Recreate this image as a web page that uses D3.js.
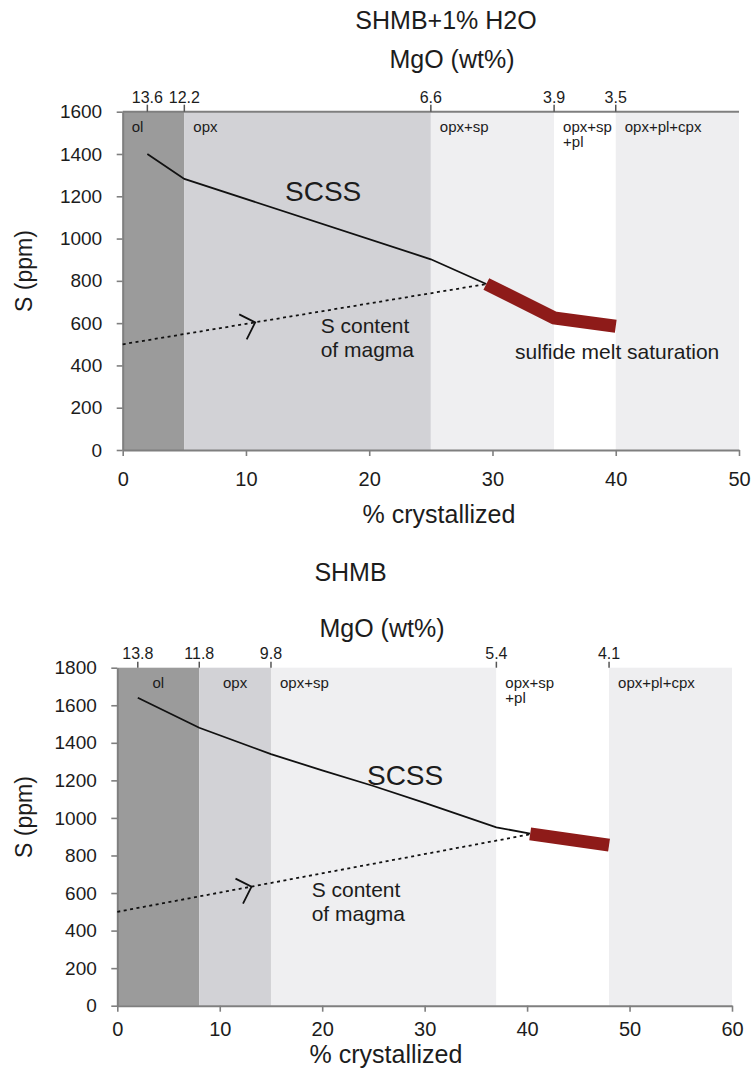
<!DOCTYPE html>
<html>
<head>
<meta charset="utf-8">
<script src="https://cdn.jsdelivr.net/npm/d3@7/dist/d3.min.js"></script>
<style>
  body { margin: 0; background: #fff; }
  svg text { font-family: "Liberation Sans", Arial, Helvetica, sans-serif; fill: #1c1c1c; }
</style>
</head>
<body>
<div class="canvas"></div>
<script>
// ---- data: upper panel (SHMB+1% H2O) ----
const topXTicks = [0, 10, 20, 30, 40, 50];
const topYTicks = [0, 200, 400, 600, 800, 1000, 1200, 1400, 1600];
const topBandEdges = [0, 5, 25, 35, 40, 50];
const topPhases = ["ol", "opx", "opx+sp", "opx+sp+pl", "opx+pl+cpx"];
const topMgoAt = [2, 5, 25, 35, 40];
const topMgoLabels = ["13.6", "12.2", "6.6", "3.9", "3.5"];
const topScssX = [2, 5, 25, 29.5];
const topScssY = [1400, 1282, 902, 785];
const topSatX = [29.5, 35, 40];
const topSatY = [785, 625, 585];
const topMagmaX = [0, 29.5];
const topMagmaY = [500, 785];

// ---- data: lower panel (SHMB) ----
const botXTicks = [0, 10, 20, 30, 40, 50, 60];
const botYTicks = [0, 200, 400, 600, 800, 1000, 1200, 1400, 1600, 1800];
const botBandEdges = [0, 8, 15, 37, 48, 60];
const botPhases = ["ol", "opx", "opx+sp", "opx+sp+pl", "opx+pl+cpx"];
const botMgoAt = [2, 8, 15, 37, 48];
const botMgoLabels = ["13.8", "11.8", "9.8", "5.4", "4.1"];
const botScssX = [2, 8, 15, 20, 25, 30, 37, 40.3];
const botScssY = [1640, 1480, 1340, 1253, 1170, 1080, 950, 916];
const botSatX = [40.3, 48];
const botSatY = [915, 855];
const botMagmaX = [0, 40.3];
const botMagmaY = [500, 913];

// phase label text (two lines for the 3-phase field)
const phaseText = {
  "ol": ["ol"],
  "opx": ["opx"],
  "opx+sp": ["opx+sp"],
  "opx+sp+pl": ["opx+sp", "+pl"],
  "opx+pl+cpx": ["opx+pl+cpx"]
};

// band colours
const phaseColor = d3.scaleOrdinal()
  .domain(["ol", "opx", "opx+sp", "opx+sp+pl", "opx+pl+cpx"])
  .range(["#9b9b9b", "#d2d2d6", "#efeff1", "#ffffff", "#eeeef0"]);

const axisGrey = "#7f7f7f";

const svg = d3
  .select(".canvas")
  .append("svg")
  .attr("width", 751)
  .attr("height", 1077);

// panel layout
const panels = [
  {
    title: "SHMB+1% H2O", titleX: 446, titleY: 29,
    mgoX: 452, mgoY: 68,
    left: 122.7, right: 739, top: 111.7, bottom: 450,
    xMax: 50, yMax: 1600, xTicks: topXTicks, yTicks: topYTicks,
    xPad: 15.5, topLine: true,
    edges: topBandEdges, phases: topPhases,
    align: ["start", "start", "start", "start", "start"],
    mgoAt: topMgoAt, mgoLabels: topMgoLabels, mgoLabelY: 103, mgoTick: 7,
    scss: [topScssX, topScssY], sat: [topSatX, topSatY], magma: [topMagmaX, topMagmaY],
    arrowAt: 10.75,
    notes: [
      { text: "SCSS", x: 13.17, y: 1176, size: 28 },
      { text: "S content", x: 16.06, y: 552, size: 21 },
      { text: "of magma", x: 16.06, y: 440, size: 21 },
      { text: "sulfide melt saturation", x: 31.83, y: 429, size: 21 }
    ],
    xLabelX: 439, xLabelY: 523, yLabelY: 271
  },
  {
    title: "SHMB", titleX: 350.5, titleY: 581,
    mgoX: 382, mgoY: 637,
    left: 117.3, right: 732, top: 667.7, bottom: 1005.7,
    xMax: 60, yMax: 1800, xTicks: botXTicks, yTicks: botYTicks,
    xPad: 10, topLine: false,
    edges: botBandEdges, phases: botPhases,
    align: ["middle", "middle", "start", "start", "start"],
    mgoAt: botMgoAt, mgoLabels: botMgoLabels, mgoLabelY: 659, mgoTick: 6,
    scss: [botScssX, botScssY], sat: [botSatX, botSatY], magma: [botMagmaX, botMagmaY],
    arrowAt: 13.1,
    notes: [
      { text: "SCSS", x: 24.37, y: 1175, size: 28 },
      { text: "S content", x: 18.97, y: 580, size: 21 },
      { text: "of magma", x: 18.97, y: 451, size: 21 }
    ],
    xLabelX: 386, xLabelY: 1063, yLabelY: 817
  }
];

const styleAxis = (sel, size) => {
  sel.attr("font-family", null).attr("font-size", null);
  sel.select(".domain").attr("stroke", axisGrey).attr("stroke-width", 2);
  sel.selectAll(".tick line").attr("stroke", axisGrey).attr("stroke-width", 1.6);
  sel.selectAll(".tick text").style("font-size", size + "px").attr("fill", "#1c1c1c");
};

const drawPanel = p => {
  const x = d3.scaleLinear().domain([0, p.xMax]).range([p.left, p.right]);
  const y = d3.scaleLinear().domain([0, p.yMax]).range([p.bottom, p.top]);
  const g = svg.append("g");

  // phase fields
  const bands = p.phases.map((ph, i) => ({
    phase: ph, x0: p.edges[i], x1: p.edges[i + 1], align: p.align[i]
  }));

  g.selectAll("rect.band")
    .data(bands)
    .enter()
    .append("rect")
    .attr("class", "band")
    .attr("x", d => x(d.x0))
    .attr("width", d => x(d.x1) - x(d.x0))
    .attr("y", y(p.yMax))
    .attr("height", y(0) - y(p.yMax))
    .attr("fill", d => phaseColor(d.phase));

  const labels = g.selectAll("text.phase")
    .data(bands)
    .enter()
    .append("text")
    .attr("class", "phase")
    .attr("text-anchor", d => d.align)
    .attr("x", d => d.align === "middle" ? (x(d.x0) + x(d.x1)) / 2 : x(d.x0) + 9)
    .attr("y", y(p.yMax) + 20)
    .style("font-size", "15px")
    .attr("fill", "#333");

  labels.each(function(d) {
    const t = d3.select(this);
    phaseText[d.phase].forEach((s, i) => {
      t.append("tspan")
        .attr("x", t.attr("x"))
        .attr("dy", i === 0 ? 0 : 15)
        .text(s);
    });
  });

  if (p.topLine) {
    g.append("line")
      .attr("x1", p.left).attr("x2", p.right)
      .attr("y1", p.top).attr("y2", p.top)
      .attr("stroke", axisGrey).attr("stroke-width", 2);
  }

  // axes
  g.append("g")
    .attr("transform", `translate(${p.left},0)`)
    .call(d3.axisLeft(y).tickValues(p.yTicks).tickFormat(d3.format("d"))
      .tickSize(6).tickSizeOuter(0).tickPadding(14.5))
    .call(sel => styleAxis(sel, 19));

  g.append("g")
    .attr("transform", `translate(0,${p.bottom})`)
    .call(d3.axisBottom(x).tickValues(p.xTicks).tickFormat(d3.format("d"))
      .tickSize(6).tickSizeOuter(0).tickPadding(p.xPad))
    .call(sel => styleAxis(sel, 20));

  // MgO ticks along the top
  const mgo = g.selectAll("g.mgo")
    .data(d3.zip(p.mgoAt, p.mgoLabels))
    .enter()
    .append("g")
    .attr("class", "mgo")
    .attr("transform", d => `translate(${x(d[0])},0)`);

  mgo.append("line")
    .attr("y1", p.top - p.mgoTick).attr("y2", p.top)
    .attr("stroke", "#555").attr("stroke-width", 1.5);

  mgo.append("text")
    .attr("text-anchor", "middle")
    .attr("y", p.mgoLabelY)
    .style("font-size", "16px")
    .text(d => d[1]);

  // curves
  const line = d3.line().x(d => x(d[0])).y(d => y(d[1]));

  g.append("path")
    .datum(d3.zip(p.magma[0], p.magma[1]))
    .attr("d", line)
    .attr("fill", "none")
    .attr("stroke", "#111")
    .attr("stroke-width", 1.8)
    .attr("stroke-dasharray", "3,3.5");

  g.append("path")
    .datum(d3.zip(p.scss[0], p.scss[1]))
    .attr("d", line)
    .attr("fill", "none")
    .attr("stroke", "#111")
    .attr("stroke-width", 1.8);

  g.append("path")
    .datum(d3.zip(p.sat[0], p.sat[1]))
    .attr("d", line)
    .attr("fill", "none")
    .attr("stroke", "#8e1b19")
    .attr("stroke-width", 13);

  // direction chevron on the magma line
  const [mx, my] = p.magma;
  const t = (p.arrowAt - mx[0]) / (mx[1] - mx[0]);
  const ay = my[0] + t * (my[1] - my[0]);
  g.append("path")
    .attr("transform", `translate(${x(p.arrowAt)},${y(ay)})`)
    .attr("d", "M-16,-8L0,0L-8.5,17")
    .attr("fill", "none")
    .attr("stroke", "#111")
    .attr("stroke-width", 1.8);

  // annotations
  g.selectAll("text.note")
    .data(p.notes)
    .enter()
    .append("text")
    .attr("class", "note")
    .attr("x", d => x(d.x))
    .attr("y", d => y(d.y))
    .style("font-size", d => d.size + "px")
    .text(d => d.text);

  // titles and axis labels
  svg.append("text")
    .attr("x", p.titleX).attr("y", p.titleY)
    .attr("text-anchor", "middle")
    .style("font-size", "25px")
    .text(p.title);

  svg.append("text")
    .attr("x", p.mgoX).attr("y", p.mgoY)
    .attr("text-anchor", "middle")
    .style("font-size", "25px")
    .text("MgO (wt%)");

  svg.append("text")
    .attr("x", p.xLabelX).attr("y", p.xLabelY)
    .attr("text-anchor", "middle")
    .style("font-size", "25px")
    .text("% crystallized");

  svg.append("text")
    .attr("transform", `translate(32,${p.yLabelY}) rotate(-90)`)
    .attr("text-anchor", "middle")
    .style("font-size", "23px")
    .text("S (ppm)");
};

panels.forEach(drawPanel);
</script>
</body>
</html>
